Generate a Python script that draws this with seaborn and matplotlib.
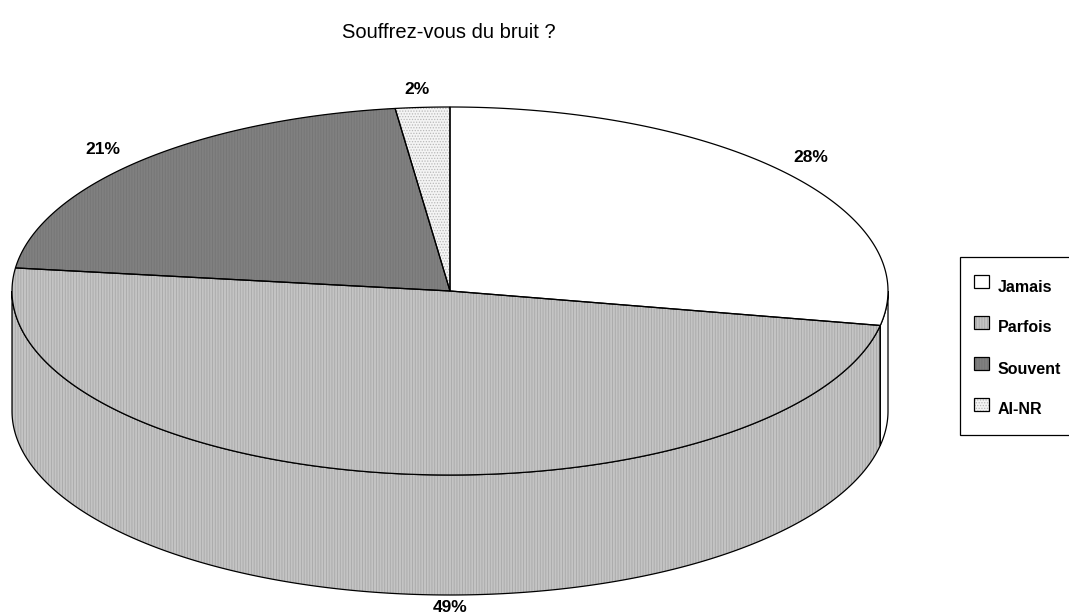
import numpy as np
import matplotlib
matplotlib.use("Agg")
import matplotlib.pyplot as plt
from matplotlib.patches import Polygon, Rectangle
import seaborn as sns

# Survey answers and their shares (percent)
categories = ["Jamais", "Parfois", "Souvent", "AI-NR"]
percentages = [28, 49, 21, 2]
title = "Souffrez-vous du bruit ?"

sns.set_theme(style="white")
plt.rcParams["font.family"] = ["Liberation Sans", "DejaVu Sans"]
plt.rcParams["hatch.linewidth"] = 0.6

# Fill styles per category: base colour, texture colour, texture pattern
fills = ["#ffffff", "#c4c4c4", "#808080", "#f4f4f4"]
tex_colors = ["#ffffff", "#a8a8a8", "#757575", "#b8b8b8"]
textures = [None, "||||||", "||||||", "......"]

W, H = 1069, 616
fig = plt.figure(figsize=(W / 100, H / 100), dpi=100)
ax = fig.add_axes([0, 0, 1, 1])
ax.set_xlim(0, W)
ax.set_ylim(H, 0)
ax.axis("off")

# Tilted pie geometry (centre, semi-axes, thickness)
cx, cy, a, b, depth = 450, 291, 438, 184, 120


def arc(t0, t1, dy=0.0, n=240):
    """Points on the ellipse, angles clockwise from 12 o'clock (degrees)."""
    t = np.radians(np.linspace(t0, t1, n))
    return np.column_stack([cx + a * np.sin(t), cy - b * np.cos(t) + dy])


def fill_shape(pts, i, z):
    ax.add_patch(Polygon(pts, closed=True, facecolor=fills[i],
                         edgecolor=tex_colors[i], lw=0, hatch=textures[i],
                         zorder=z))
    ax.add_patch(Polygon(pts, closed=True, facecolor="none",
                         edgecolor="black", lw=0.9, zorder=z + 0.5))


shares = np.asarray(percentages, dtype=float)
bounds = np.concatenate([[0.0], np.cumsum(shares) / shares.sum() * 360.0])

# Visible side wall: only the front half (90..270 degrees)
for i in range(len(categories)):
    s = max(bounds[i], 90.0)
    e = min(bounds[i + 1], 270.0)
    if s < e:
        pts = np.vstack([arc(s, e), arc(e, s, depth)])
        fill_shape(pts, i, 1)

# Top faces
for i in range(len(categories)):
    pts = np.vstack([[[cx, cy]], arc(bounds[i], bounds[i + 1])])
    fill_shape(pts, i, 3)

# Percentage labels
label_pos = [(811, 158), (450, 607), (103, 149), (417, 89)]
for p, (lx, ly) in zip(percentages, label_pos):
    ax.text(lx, ly, f"{p}%", ha="center", va="center", fontsize=12.5,
            fontweight="bold", color="black", zorder=6)

# Title
ax.text(449, 33, title, ha="center", va="center", fontsize=14.5,
        color="black", zorder=6)

# Legend box
ax.add_patch(Rectangle((960, 257), 140, 178, facecolor="white",
                       edgecolor="black", lw=0.9, zorder=5))
for i, name in enumerate(categories):
    top = 275 + 41 * i
    sq = np.array([[974, top], [989, top], [989, top + 13], [974, top + 13]])
    fill_shape(sq, i, 6)
    ax.text(998, top + 12, name, ha="left", va="center", fontsize=11.5,
            fontweight="bold", color="black", zorder=7)

fig.savefig("out.png", dpi=100)
